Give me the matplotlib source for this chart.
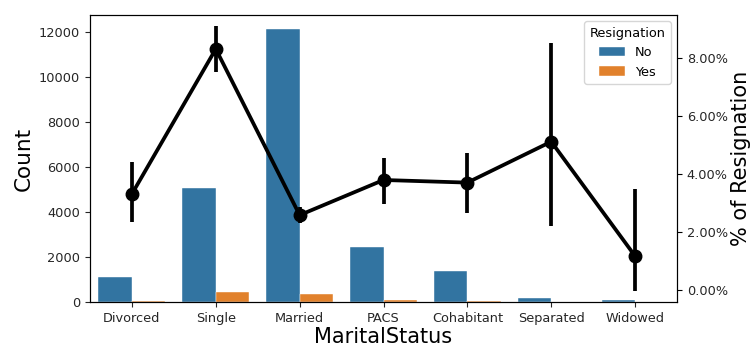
import numpy as np
import matplotlib
matplotlib.use("Agg")
import matplotlib.pyplot as plt
from matplotlib.ticker import PercentFormatter

# counts per marital status, split by resignation
status = ["Divorced", "Single", "Married", "PACS", "Cohabitant", "Separated", "Widowed"]
count_no = [1110, 5050, 12150, 2460, 1390, 165, 100]
count_yes = [38, 460, 340, 96, 53, 9, 1]

# resignation rate with its confidence interval
rate = [0.0331, 0.0830, 0.0258, 0.0379, 0.0370, 0.0511, 0.0117]
rate_lo = [0.0235, 0.0750, 0.0230, 0.0298, 0.0266, 0.0220, -0.0002]
rate_hi = [0.0440, 0.0909, 0.0285, 0.0453, 0.0471, 0.0850, 0.0348]

fig = plt.figure(figsize=(7.5, 3.47), dpi=100)
ax = fig.add_axes([0.12, 0.1297, 0.7827, 0.8271])

x = np.arange(len(status))
w = 0.4
ax.bar(x - w / 2, count_no, w, color="#3274a1", label="No", edgecolor="white", linewidth=0.3)
ax.bar(x + w / 2, count_yes, w, color="#e1812c", label="Yes", edgecolor="white", linewidth=0.3)
ax.set_xlim(-0.5, 6.5)
ax.set_ylim(0, 12755)
ax.set_xticks(x)
ax.set_xticklabels(status)
ax.set_xlabel("MaritalStatus", fontsize=15, labelpad=2)
ax.set_ylabel("Count", fontsize=15.5)
ax.tick_params(labelsize=9.3, colors="#262626", labelcolor="#262626")
ax.legend(title="Resignation", loc="upper right", fontsize=9.3, title_fontsize=9.3)

ax2 = ax.twinx()
rate = np.array(rate)
yerr = [rate - np.array(rate_lo), np.array(rate_hi) - rate]
ax2.errorbar(x, rate, yerr=yerr, color="black", lw=2.7, elinewidth=2.7,
             marker="o", markersize=9, capsize=0)
ax2.set_ylim(-0.0041, 0.0947)
ax2.yaxis.set_major_formatter(PercentFormatter(1, decimals=2))
ax2.set_yticks([0, 0.02, 0.04, 0.06, 0.08])
ax2.set_ylabel("% of Resignation", fontsize=15, labelpad=2)
ax2.tick_params(labelsize=9.3, labelcolor="#262626")

fig.savefig("out.png")
